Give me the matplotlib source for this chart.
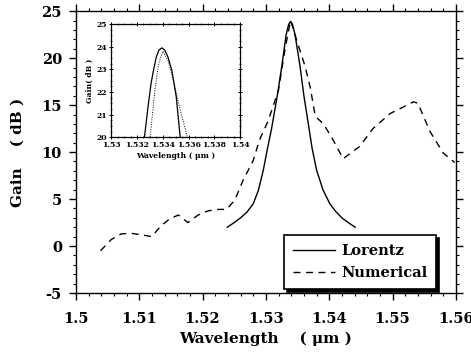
import matplotlib
matplotlib.use('Agg')
import matplotlib.pyplot as plt
from matplotlib.ticker import MultipleLocator, FixedLocator
import numpy as np

plt.rcParams['font.family'] = ['DejaVu Serif']
plt.rcParams['font.weight'] = 'bold'
plt.rcParams['axes.unicode_minus'] = False

# main plot data (wavelength in um, gain in dB)
lorentz_wl = [1.5239, 1.5250, 1.5260, 1.5270, 1.5280, 1.5288, 1.5296, 1.5302,
              1.5309, 1.5318, 1.5325, 1.5332, 1.5336, 1.5339, 1.5342, 1.5346,
              1.5354, 1.5360, 1.5367, 1.5373, 1.5380, 1.5390, 1.5401, 1.5410,
              1.5420, 1.5430, 1.5441]
lorentz_gain = [2.0, 2.5, 3.0, 3.6, 4.5, 5.9, 8.1, 10.2,
                12.5, 16.0, 19.1, 22.5, 23.6, 23.9, 23.6, 22.5,
                19.1, 16.0, 13.0, 10.4, 8.1, 6.0, 4.5, 3.7,
                3.0, 2.5, 2.0]

numerical_wl = [1.5039, 1.5056, 1.5072, 1.5088, 1.5104, 1.5120, 1.5133, 1.5148,
                1.5162, 1.5177, 1.5193, 1.5209, 1.5225, 1.5238, 1.5251, 1.5264,
                1.5280, 1.5290, 1.5304, 1.5320, 1.5330, 1.5339, 1.5351, 1.5362,
                1.5370, 1.5378, 1.5391, 1.5406, 1.5422, 1.5448, 1.5469, 1.5496,
                1.5517, 1.5533, 1.5540, 1.5559, 1.5580, 1.5598]
numerical_gain = [-0.5, 0.7, 1.3, 1.35, 1.2, 1.0, 2.05, 2.9,
                  3.3, 2.5, 3.3, 3.75, 3.9, 3.9, 4.9, 7.0,
                  9.1, 11.3, 13.4, 16.6, 20.9, 24.0, 21.4, 19.1,
                  16.9, 13.8, 13.0, 11.3, 9.3, 10.6, 12.5, 14.1,
                  14.8, 15.35, 15.2, 12.2, 9.9, 8.9]

# inset (zoom around the peak)
inset_lor_wl = [1.53258, 1.53289, 1.53310, 1.53328, 1.53350, 1.53370, 1.53393,
                1.53415, 1.53440, 1.53470, 1.53504, 1.53535]
inset_lor_gain = [20.0, 21.5, 22.4, 22.96, 23.55, 23.85, 23.95,
                  23.85, 23.55, 22.96, 21.8, 20.0]
inset_num_wl = [1.53302, 1.53341, 1.53370, 1.53401, 1.53440, 1.53483, 1.53522, 1.53591]
inset_num_gain = [20.0, 22.2, 23.3, 23.8, 23.4, 22.5, 21.5, 20.0]

x_ticks = [1.5, 1.51, 1.52, 1.53, 1.54, 1.55, 1.56]
x_tick_labels = ['1.5', '1.51', '1.52', '1.53', '1.54', '1.55', '1.56']
y_ticks = [-5, 0, 5, 10, 15, 20, 25]
inset_x_ticks = [1.53, 1.532, 1.534, 1.536, 1.538, 1.54]
inset_x_labels = ['1.53', '1.532', '1.534', '1.536', '1.538', '1.54']
inset_y_ticks = [20, 21, 22, 23, 24, 25]

fig = plt.figure(figsize=(4.71, 3.6), dpi=100)
ax = fig.add_axes([0.161, 0.186, 0.807, 0.783])

ax.plot(lorentz_wl, lorentz_gain, color='black', lw=1.0, label='Lorentz')
ax.plot(numerical_wl, numerical_gain, color='black', lw=1.0,
        linestyle=(0, (5, 4)), label='Numerical')

ax.set_xlim(1.5, 1.56)
ax.set_ylim(-5, 25)
ax.xaxis.set_major_locator(FixedLocator(x_ticks))
ax.set_xticklabels(x_tick_labels)
ax.yaxis.set_major_locator(FixedLocator(y_ticks))
ax.set_yticklabels([str(v) for v in y_ticks])
ax.xaxis.set_minor_locator(MultipleLocator(0.002))
ax.yaxis.set_minor_locator(MultipleLocator(1))
ax.tick_params(which='both', direction='out', top=True, right=True, labelsize=10.5)
ax.tick_params(which='major', length=5, width=1)
ax.tick_params(which='minor', length=2.5, width=0.8)
ax.tick_params(axis='x', which='major', pad=9)
ax.tick_params(axis='y', which='major', pad=5)
for sp in ax.spines.values():
    sp.set_linewidth(1.0)

ax.set_xlabel('Wavelength    ( \u03bcm )', fontsize=11, fontweight='bold', labelpad=4)
ax.set_ylabel('Gain    ( dB )', fontsize=11, fontweight='bold')
ax.yaxis.set_label_coords(-0.135, 0.5)

leg = ax.legend(loc='lower right', bbox_to_anchor=(0.948, 0.015), borderaxespad=0,
                fontsize=10.5, frameon=True, fancybox=False, edgecolor='black',
                handlelength=2.9, borderpad=0.6, labelspacing=0.55, handletextpad=0.4,
                shadow={'color': 'black', 'alpha': 1.0})
leg.get_frame().set_linewidth(1.2)
leg.get_frame().set_alpha(1)

# inset
axi = fig.add_axes([0.236, 0.619, 0.274, 0.314])
axi.plot(inset_lor_wl, inset_lor_gain, color='black', lw=0.9)
axi.plot(inset_num_wl, inset_num_gain, color='black', lw=0.7, linestyle=(0, (1, 1.5)))
axi.set_xlim(1.53, 1.54)
axi.set_ylim(20, 25)
axi.xaxis.set_major_locator(FixedLocator(inset_x_ticks))
axi.set_xticklabels(inset_x_labels)
axi.yaxis.set_major_locator(FixedLocator(inset_y_ticks))
axi.set_yticklabels([str(v) for v in inset_y_ticks])
axi.xaxis.set_minor_locator(MultipleLocator(0.0005))
axi.yaxis.set_minor_locator(MultipleLocator(0.25))
axi.tick_params(which='both', direction='inout', top=True, right=True, labelsize=5.5, pad=1.5)
axi.tick_params(which='major', length=3, width=0.7)
axi.tick_params(which='minor', length=1.5, width=0.5)
axi.set_xlabel('Wavelength ( \u03bcm )', fontsize=5.5, fontweight='bold', labelpad=2)
axi.set_ylabel('Gain( dB )', fontsize=5.5, fontweight='bold', labelpad=2)
for sp in axi.spines.values():
    sp.set_linewidth(0.9)

fig.savefig('out.png', dpi=100)
